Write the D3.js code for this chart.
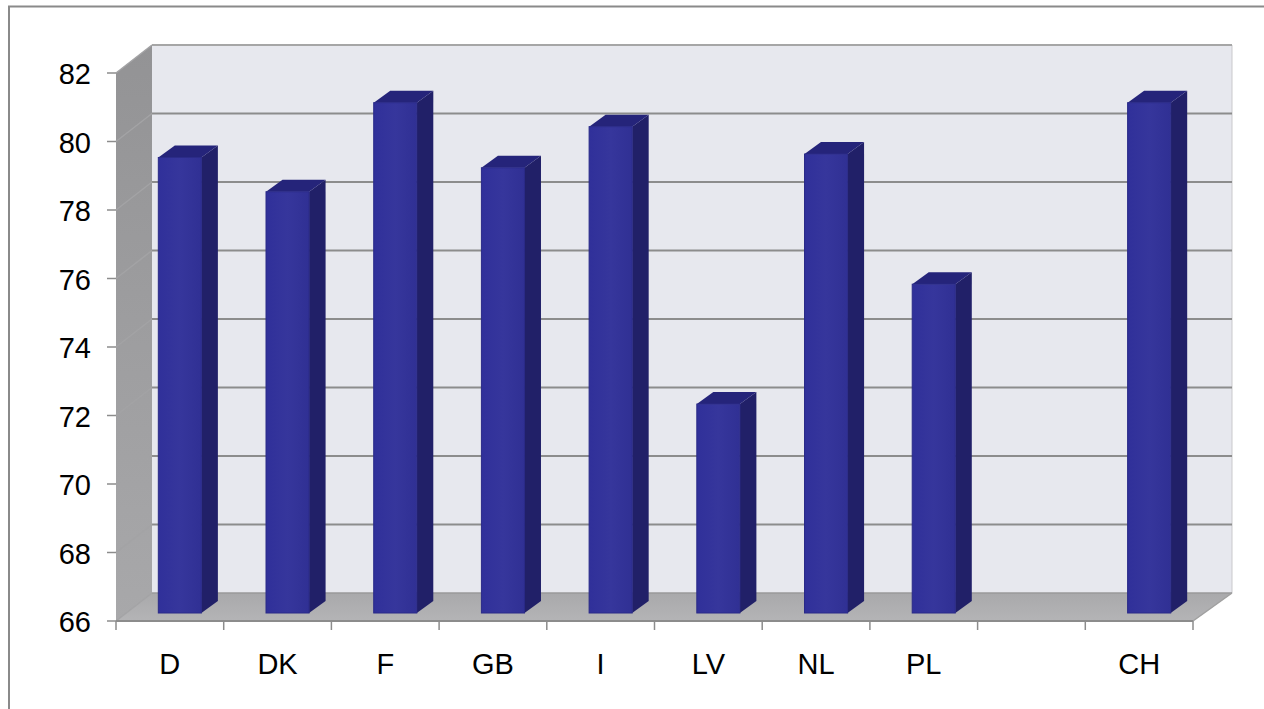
<!DOCTYPE html>
<html>
<head>
<meta charset="utf-8">
<script src="https://cdn.jsdelivr.net/npm/d3@7"></script>
<style>
html, body { margin: 0; padding: 0; background: #fff; overflow: hidden; }
text { font-family: "Liberation Sans", Arial, sans-serif; font-size: 29px; fill: #000; }
</style>
</head>
<body>
<div id="chart"></div>
<script>
const categories = ['D', 'DK', 'F', 'GB', 'I', 'LV', 'NL', 'PL', '', 'CH'];
const values = [79.3, 78.3, 80.9, 79.0, 80.2, 72.1, 79.4, 75.6, null, 80.9];
const yTicks = [66, 68, 70, 72, 74, 76, 78, 80, 82];

const svg = d3.select('#chart').append('svg')
    .attr('width', 1264)
    .attr('height', 709);

const defs = svg.append('defs');
const grad = defs.append('linearGradient').attr('id', 'floorFill')
    .attr('x1', 0).attr('x2', 0).attr('y1', 0).attr('y2', 1);
grad.append('stop').attr('offset', 0).attr('stop-color', '#a9a9ab');
grad.append('stop').attr('offset', 1).attr('stop-color', '#b4b4b6');
const wallGrad = defs.append('linearGradient').attr('id', 'wallFill')
    .attr('x1', 0).attr('x2', 0).attr('y1', 0).attr('y2', 1);
wallGrad.append('stop').attr('offset', 0).attr('stop-color', '#939395');
wallGrad.append('stop').attr('offset', 1).attr('stop-color', '#a8a8aa');
const barGrad = defs.append('linearGradient').attr('id', 'barFill')
    .attr('x1', 0).attr('x2', 1).attr('y1', 0).attr('y2', 0);
barGrad.append('stop').attr('offset', 0).attr('stop-color', '#30309a');
barGrad.append('stop').attr('offset', 0.5).attr('stop-color', '#36369c');
barGrad.append('stop').attr('offset', 1).attr('stop-color', '#303094');

//frame round the whole chart
svg.append('path')
    .attr('d', 'M9,709V6.5H1264')
    .attr('fill', 'none')
    .attr('stroke', '#8a8a8a')
    .attr('stroke-width', 2);

//scales are for the front plane, the back wall is the same thing shifted
const x = d3.scaleBand().domain(d3.range(categories.length)).range([116, 1193])
    .paddingInner(0.6).paddingOuter(0.3);
const step = x.step();
const y = d3.scaleLinear().domain([66, 82]).range([621, 73]);
const depthX = 36;
const depthXRight = 39;
const depthY = -28;
const x0 = x.range()[0];
const x1 = x.range()[1];

//back wall
svg.append('rect')
    .attr('x', x0 + depthX)
    .attr('y', y(82) + depthY)
    .attr('width', x1 + depthXRight - x0 - depthX)
    .attr('height', y(66) - y(82))
    .attr('fill', '#e7e8ee');
svg.append('line')
    .attr('x1', x1 + depthXRight).attr('x2', x1 + depthXRight)
    .attr('y1', y(82) + depthY).attr('y2', y(66) + depthY)
    .attr('stroke', '#c9c9cc').attr('stroke-width', 1);

//side wall
svg.append('path')
    .attr('d', `M${x0},${y(82)}L${x0 + depthX},${y(82) + depthY}V${y(66) + depthY}L${x0},${y(66)}Z`)
    .attr('fill', 'url(#wallFill)');

//floor
svg.append('path')
    .attr('d', `M${x0},${y(66)}L${x0 + depthX},${y(66) + depthY}H${x1 + depthXRight}L${x1},${y(66)}Z`)
    .attr('fill', 'url(#floorFill)');

//gridlines, back wall and side wall
svg.append('g').selectAll('line').data(yTicks.slice(1))
    .join('line')
    .attr('x1', x0 + depthX)
    .attr('x2', x1 + depthXRight)
    .attr('y1', d => y(d) + depthY)
    .attr('y2', d => y(d) + depthY)
    .attr('stroke', d => d === 82 ? '#a6a6a6' : '#8c8c8c')
    .attr('stroke-width', 2);
svg.append('g').selectAll('line').data(yTicks)
    .join('line')
    .attr('x1', x0)
    .attr('x2', x0 + depthX)
    .attr('y1', d => y(d))
    .attr('y2', d => y(d) + depthY)
    .attr('stroke', '#a3a3a5')
    .attr('stroke-width', 1.5);
svg.append('line')
    .attr('x1', x0 + depthX).attr('x2', x1 + depthXRight)
    .attr('y1', y(66) + depthY).attr('y2', y(66) + depthY)
    .attr('stroke', '#9a9a9a').attr('stroke-width', 1.5);
svg.append('line')
    .attr('x1', x1).attr('x2', x1 + depthXRight)
    .attr('y1', y(66)).attr('y2', y(66) + depthY)
    .attr('stroke', '#a0a0a0').attr('stroke-width', 1.5);

//bars
const barShiftX = 10;
const barShiftY = -8;
const barDx = 16.5;
const barDy = -12;
const bars = svg.append('g').selectAll('g')
    .data(values.map((v, i) => ({ v, i })).filter(d => d.v !== null))
    .join('g')
    .attr('transform', d => `translate(${x(d.i) + barShiftX},${barShiftY})`);
const bw = x.bandwidth();
bars.append('path')
    .attr('d', d => `M${bw},${y(d.v)}L${bw + barDx},${y(d.v) + barDy}V${y(66) + barDy}L${bw},${y(66)}Z`)
    .attr('fill', '#212068');
bars.append('path')
    .attr('d', d => `M0,${y(d.v)}L${barDx},${y(d.v) + barDy}H${bw + barDx}L${bw},${y(d.v)}Z`)
    .attr('fill', '#25247a');
bars.append('rect')
    .attr('x', 0)
    .attr('y', d => y(d.v))
    .attr('width', bw)
    .attr('height', d => y(66) - y(d.v))
    .attr('fill', 'url(#barFill)')
    .attr('stroke', '#2a2a88')
    .attr('stroke-width', 1);

//axes
const axisLine = svg.append('g');
axisLine.append('line')
    .attr('x1', x0).attr('x2', x1)
    .attr('y1', y(66)).attr('y2', y(66))
    .attr('stroke', '#8c8c8c').attr('stroke-width', 2);
axisLine.selectAll('.xt').data(d3.range(categories.length + 1))
    .join('line')
    .attr('class', 'xt')
    .attr('x1', d => x0 + d * step)
    .attr('x2', d => x0 + d * step)
    .attr('y1', y(66))
    .attr('y2', y(66) + 9)
    .attr('stroke', '#8c8c8c')
    .attr('stroke-width', 1.5);
axisLine.selectAll('.yt').data(yTicks)
    .join('line')
    .attr('class', 'yt')
    .attr('x1', x0 - 9)
    .attr('x2', x0)
    .attr('y1', d => y(d))
    .attr('y2', d => y(d))
    .attr('stroke', '#8c8c8c')
    .attr('stroke-width', 1.5);

//labels
svg.append('g').selectAll('text').data(yTicks)
    .join('text')
    .attr('x', 91)
    .attr('y', d => y(d) + 11)
    .attr('text-anchor', 'end')
    .text(d => d);
svg.append('g').selectAll('text').data(categories)
    .join('text')
    .attr('x', (d, i) => x(i) + bw / 2)
    .attr('y', 674)
    .attr('text-anchor', 'middle')
    .text(d => d);
</script>
</body>
</html>
